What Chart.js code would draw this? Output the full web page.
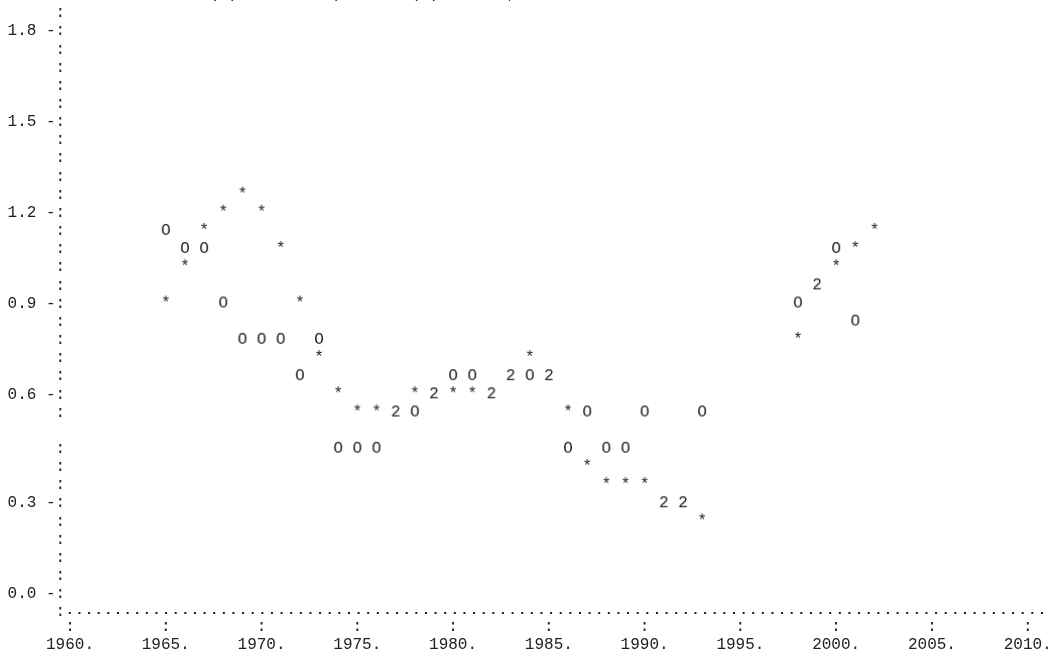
<!DOCTYPE html>
<html>
<head>
<meta charset="utf-8">
<title>Historical and extrapolated values</title>
<script src="https://cdn.jsdelivr.net/npm/chart.js@4.4.1/dist/chart.umd.min.js"></script>
<style>
  html, body { margin: 0; padding: 0; background: #fff; overflow: hidden; }
  canvas { display: block; }
</style>
</head>
<body>
<canvas id="plot" width="1053" height="658"></canvas>
<script>
// values, one per year (null = nothing printed)
const years = [1965, 1966, 1967, 1968, 1969, 1970, 1971, 1972, 1973, 1974,
  1975, 1976, 1977, 1978, 1979, 1980, 1981, 1982, 1983, 1984,
  1985, 1986, 1987, 1988, 1989, 1990, 1991, 1992, 1993, 1994,
  1995, 1996, 1997, 1998, 1999, 2000, 2001, 2002];
const observed = [1.14, 1.08, 1.08, 0.90, 0.78, 0.78, 0.78, 0.66, 0.78, 0.45,
  0.45, 0.45, 0.55, 0.55, 0.60, 0.66, 0.66, 0.60, 0.66, 0.66,
  0.66, 0.45, 0.55, 0.45, 0.45, 0.55, 0.30, 0.30, 0.55, null,
  null, null, null, 0.90, 0.96, 1.08, 0.84, null];
const estimated = [0.90, 1.02, 1.14, 1.20, 1.26, 1.20, 1.08, 0.90, 0.72, 0.60,
  0.55, 0.55, 0.55, 0.60, 0.60, 0.60, 0.60, 0.60, 0.66, 0.72,
  0.66, 0.55, 0.40, 0.35, 0.35, 0.35, 0.30, 0.30, 0.24, null,
  null, null, null, 0.78, 0.96, 1.02, 1.08, 1.14];

const xTicks = [1960, 1965, 1970, 1975, 1980, 1985, 1990, 1995, 2000, 2005, 2010];
const yTicks = [1.8, 1.5, 1.2, 0.9, 0.6, 0.3, 0.0];
const title = 'Historical (O) and Extrapolated (*) Values, 2 = Both Plotted at Same Point';

const FAMILY = '"Liberation Mono", "DejaVu Sans Mono", monospace';
const FONT = '16px ' + FAMILY;
const INK = '#222';

// the printout has one spare blank line between 0.6 and 0.3,
// so map values to text rows piecewise
function toRow(v) {
  if (v >= 0.6) return (1.86 - v) / 0.06;
  if (v >= 0.3) return 21 + (0.6 - v) / 0.05;
  return 27 + (0.3 - v) / 0.06;
}
function fromRow(r) {
  if (r <= 21) return 1.86 - 0.06 * r;
  if (r <= 27) return 0.6 - 0.05 * (r - 21);
  return 0.3 - 0.06 * (r - 27);
}

class RowScale extends Chart.LinearScale {
  static id = 'rows';
  static defaults = Chart.LinearScale.defaults;

  getPixelForValue(value) {
    const r0 = toRow(this.max), r1 = toRow(this.min);
    return this.top + (toRow(value) - r0) / (r1 - r0) * (this.bottom - this.top);
  }

  getValueForPixel(pixel) {
    const r0 = toRow(this.max), r1 = toRow(this.min);
    return fromRow(r0 + (pixel - this.top) / (this.bottom - this.top) * (r1 - r0));
  }
}
Chart.register(RowScale);

// plot symbols are printed characters
function glyph(ch) {
  const c = document.createElement('canvas');
  c.width = 10;
  c.height = 18;
  const g = c.getContext('2d');
  g.font = FONT;
  g.fillStyle = INK;
  g.textAlign = 'center';
  g.textBaseline = 'middle';
  g.fillText(ch, 5, 9);
  return c;
}

const same = i => observed[i] !== null && observed[i] === estimated[i];
const points = (keep, pick) => years
  .map((x, i) => keep(i) ? { x, y: pick(i) } : null)
  .filter(Boolean);

const BLANK_ROW = 23;
const DOT_ROW = 33.05;
const rowList = [];
for (let r = 0; r <= 33; r++) rowList.push(r);
rowList.push(DOT_ROW);

const titleRow = {
  id: 'titleRow',
  afterDraw(chart) {
    const { ctx, chartArea, scales } = chart;
    const rowH = scales.y.getPixelForValue(fromRow(1)) - scales.y.getPixelForValue(fromRow(0));
    ctx.save();
    ctx.font = FONT;
    ctx.fillStyle = INK;
    ctx.textAlign = 'left';
    ctx.textBaseline = 'middle';
    const cell = ctx.measureText(' ').width;
    ctx.fillText(title, chartArea.left + 4 * cell, chartArea.top - rowH - 1);
    ctx.restore();
  }
};

new Chart(document.getElementById('plot'), {
  type: 'scatter',
  data: {
    datasets: [
      {
        label: 'O',
        data: points(i => observed[i] !== null && !same(i), i => observed[i]),
        pointStyle: glyph('O')
      },
      {
        label: '*',
        data: points(i => estimated[i] !== null && !same(i), i => estimated[i]),
        pointStyle: glyph('*')
      },
      {
        label: '2',
        data: points(same, i => observed[i]),
        pointStyle: glyph('2')
      }
    ]
  },
  options: {
    responsive: false,
    animation: false,
    events: [],
    layout: { padding: { top: 13, left: 0, right: 0, bottom: 0 } },
    plugins: {
      legend: { display: false },
      tooltip: { enabled: false }
    },
    elements: { point: { radius: 4 } },
    scales: {
      x: {
        type: 'linear',
        position: 'bottom',
        min: 1959.75,
        max: 2011.06,
        afterBuildTicks: s => { s.ticks = xTicks.map(value => ({ value })); },
        afterFit: s => { s.height = 38; s.paddingLeft = 0; s.paddingRight = 0; },
        grid: { display: false },
        border: { display: false },
        ticks: {
          autoSkip: false,
          maxRotation: 0,
          padding: -10,
          color: INK,
          font: { family: FAMILY, size: 16, lineHeight: 1.135 },
          callback: v => [':', v + '.']
        }
      },
      y: {
        type: 'rows',
        min: fromRow(33.43),
        max: 1.86,
        afterBuildTicks: s => { s.ticks = rowList.map(r => ({ value: fromRow(r) })); },
        afterFit: s => { s.width = 65.2; s.paddingTop = 0; s.paddingBottom = 0; },
        grid: {
          drawTicks: false,
          lineWidth: 2,
          color: c => c.index === rowList.length - 1 ? INK : 'rgba(0,0,0,0)',
          borderDash: [2, 7.625],
          borderDashOffset: 5.8
        },
        border: { display: false, dash: [2, 7.625], dashOffset: 5.8 },
        ticks: {
          autoSkip: false,
          padding: 0,
          color: INK,
          font: { family: FAMILY, size: 16, lineHeight: 1.135 },
          callback: (v, i) => {
            if (i === BLANK_ROW || i > 33) return '';
            const t = yTicks.find(t => Math.abs(t - v) < 1e-6);
            return t !== undefined ? t.toFixed(1) + ' -:' : ':';
          }
        }
      }
    }
  },
  plugins: [titleRow]
});
</script>
</body>
</html>
